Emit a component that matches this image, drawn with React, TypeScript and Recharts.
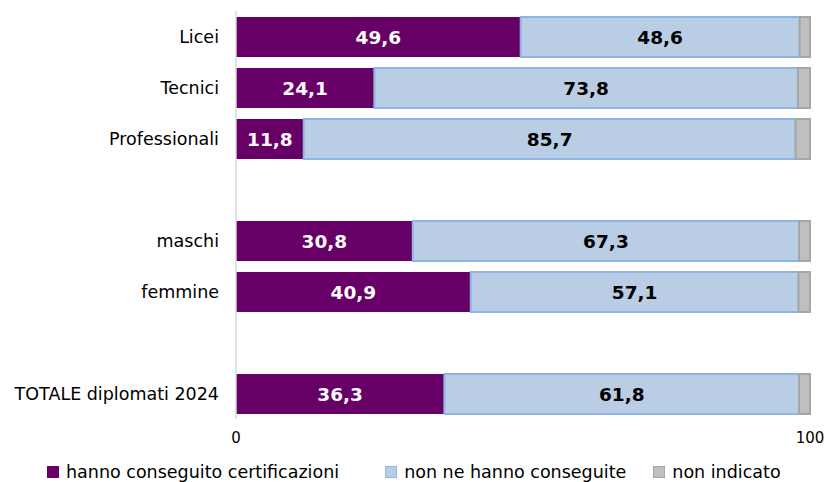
import { BarChart, Bar, XAxis, YAxis, Legend, LabelList } from 'recharts'

const categories = ['Licei', 'Tecnici', 'Professionali', '', 'maschi', 'femmine', ' ', 'TOTALE diplomati 2024']
const conseguito = [49.6, 24.1, 11.8, null, 30.8, 40.9, null, 36.3]
const nonConseguito = [48.6, 73.8, 85.7, null, 67.3, 57.1, null, 61.8]
const nonIndicato = [1.8, 2.1, 2.5, null, 1.9, 2.0, null, 1.9]
const xTicks = [0, 100]

const FONT = '"DejaVu Sans", sans-serif'

const data = categories.map((name, i) => ({
  name,
  si: conseguito[i],
  no: nonConseguito[i],
  ni: nonIndicato[i],
}))

const series = [
  { key: 'si', label: 'hanno conseguito certificazioni', fill: '#660066', stroke: '#660066', text: '#ffffff' },
  { key: 'no', label: 'non ne hanno conseguite', fill: '#b9cde5', stroke: '#8db4e2', text: '#000000' },
  { key: 'ni', label: 'non indicato', fill: '#bfbfbf', stroke: '#a6a6a6', text: null },
]

const fmt = (v: any) => (v == null ? '' : Number(v).toFixed(1).replace('.', ','))

function LegendBox() {
  const gaps = [0, 46, 27]
  return (
    <div
      style={{
        display: 'flex',
        alignItems: 'center',
        height: 33,
        paddingTop: 12,
        boxSizing: 'border-box',
        paddingLeft: 47,
        fontFamily: FONT,
        fontSize: 17.5,
        color: '#000',
        lineHeight: '18px',
      }}
    >
      {series.map((s, i) => (
        <div key={s.key} style={{ display: 'flex', alignItems: 'center', marginLeft: gaps[i] }}>
          <span
            style={{
              width: 10,
              height: 10,
              background: s.fill,
              border: `1px solid ${s.stroke}`,
              marginRight: 7,
              display: 'inline-block',
            }}
          />
          <span>{s.label}</span>
        </div>
      ))}
    </div>
  )
}

export default function App() {
  return (
    <div style={{ position: 'absolute', left: 0, top: 0, width: 826, height: 482, background: '#fff' }}>
      <BarChart
        width={826}
        height={482}
        data={data}
        layout="vertical"
        margin={{ top: 11, right: 16, bottom: 0, left: 0 }}
        barSize={40}
      >
        <XAxis
          type="number"
          domain={[0, 100]}
          ticks={xTicks}
          axisLine={false}
          tickLine={false}
          tickSize={0}
          tickMargin={13}
          height={30}
          tick={{ fontSize: 15, fill: '#000', fontFamily: FONT }}
        />
        <YAxis
          type="category"
          dataKey="name"
          width={236}
          axisLine={{ stroke: '#d9d9d9', strokeWidth: 1.5 }}
          tickLine={false}
          tickSize={0}
          tickMargin={17}
          interval={0}
          tick={{ fontSize: 17.5, fill: '#000', fontFamily: FONT }}
        />
        <Legend verticalAlign="bottom" content={() => <LegendBox />} />
        {series.map(s => (
          <Bar
            key={s.key}
            dataKey={s.key}
            stackId="a"
            fill={s.fill}
            stroke={s.stroke}
            strokeWidth={s.key === 'si' ? 0 : 2}
            isAnimationActive={false}
          >
            {s.text && (
              <LabelList
                dataKey={s.key}
                position="center"
                formatter={fmt}
                fill={s.text}
                style={{ fontSize: 18.5, fontWeight: 'bold', fontFamily: FONT }}
              />
            )}
          </Bar>
        ))}
      </BarChart>
    </div>
  )
}
